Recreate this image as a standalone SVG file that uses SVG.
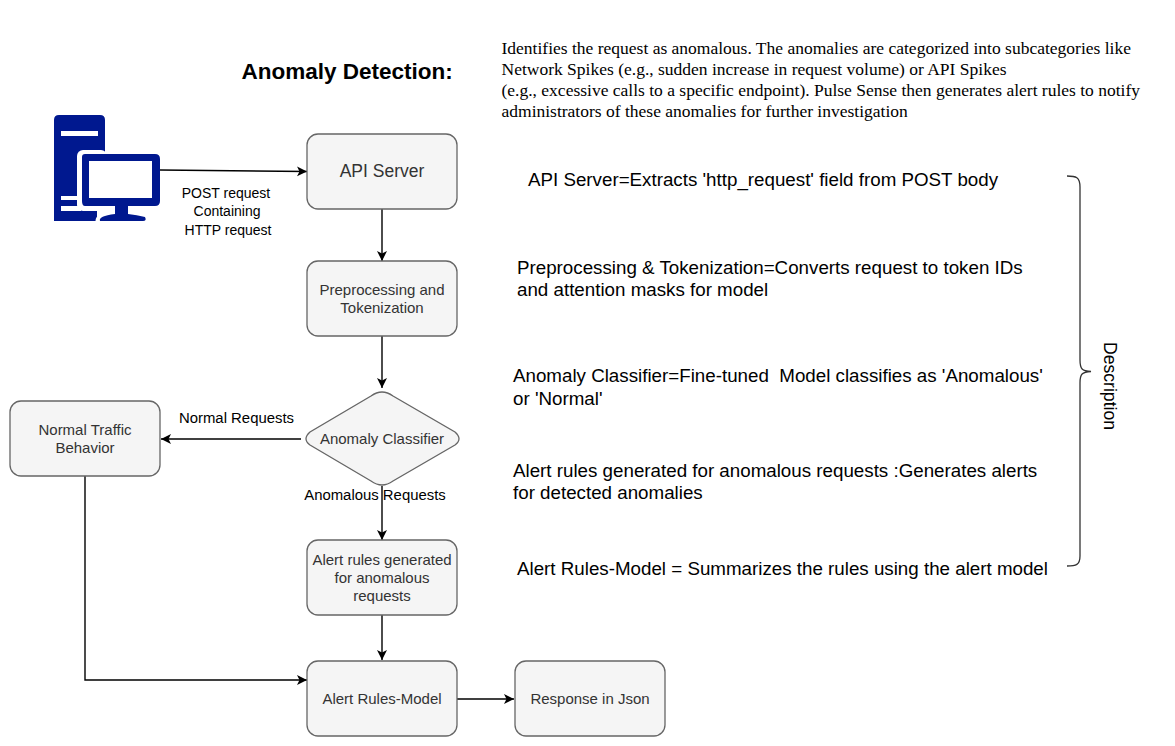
<svg xmlns="http://www.w3.org/2000/svg" width="1175" height="746" viewBox="0 0 1175 746">
<style>
text{font-family:"Liberation Sans",Arial,sans-serif;fill:#000}
.box{fill:#f5f5f5;stroke:#666;stroke-width:1.3}
.n{font-size:15px;fill:#333;text-anchor:middle}
.d{font-size:18.75px;white-space:pre}
.s{font-family:"Liberation Serif","Times New Roman",serif;font-size:17.5px}
.l{font-size:14px;text-anchor:middle}
.c{fill:none;stroke:#000;stroke-width:1.4;marker-end:url(#a)}
</style>
<defs><marker id="a" markerUnits="userSpaceOnUse" markerWidth="12" markerHeight="12" refX="10" refY="5" orient="auto"><path d="M0 0L10 5L0 10L2.500 5Z" fill="#000"/></marker></defs>
<rect width="1175" height="746" fill="#fff"/>
<text id="title" x="241.500" y="79" style="font-size:22.500px;font-weight:700">Anomaly Detection:</text>
<g id="intro">
<text class="s" x="501.500" y="54">Identifies the request as anomalous. The anomalies are categorized into subcategories like</text>
<text class="s" x="501.500" y="75">Network Spikes (e.g., sudden increase in request volume) or API Spikes</text>
<text class="s" x="501.500" y="96">(e.g., excessive calls to a specific endpoint). Pulse Sense then generates alert rules to notify</text>
<text class="s" x="501.500" y="117">administrators of these anomalies for further investigation</text>
</g>
<g id="client" fill="#00188f">
<path d="M59 115H100Q105 115 105 120V160H97V221H54V120Q54 115 59 115Z"/>
<rect x="61" y="131" width="37" height="5" fill="#fff"/>
<rect x="77" y="150" width="30" height="61" rx="6" fill="#fff"/>
<rect x="61" y="196" width="20" height="4" fill="#fff"/>
<rect x="61" y="206" width="20" height="5" fill="#fff"/>
<path d="M85 154H155Q160 154 160 159V201Q160 206 155 206H128V214Q137 215 145 217Q147 221 143 221H100Q98 216 115 214V206H85Q82 206 82 201V157Q82 154 85 154ZM89 161V198H152V161Z" fill-rule="evenodd"/>
<path d="M97 221Q97 214 113 212" fill="none" stroke="#fff" stroke-width="3"/>
</g>
<g id="connectors">
<path class="c" d="M160 170L307 171.500"/>
<path class="c" d="M382 209V261"/>
<path class="c" d="M382 336V388"/>
<path class="c" d="M301 439H161"/>
<path class="c" d="M382 486V540"/>
<path class="c" d="M382 615V660"/>
<path class="c" d="M85 476V680H307"/>
<path class="c" d="M457 699H514"/>
</g>
<g id="edge-label-post">
<text class="l" x="226" y="198">POST request</text>
<text class="l" x="227" y="216">Containing</text>
<text class="l" x="228" y="235">HTTP request</text>
</g>
<g id="api-server"><rect class="box" x="307" y="134" width="150" height="75" rx="11"/><text class="n" x="382" y="177" style="font-size:17.500px">API Server</text></g>
<g id="preprocessing"><rect class="box" x="307" y="261" width="150" height="75" rx="11"/><text class="n" x="382" y="295">Preprocessing and</text><text class="n" x="382" y="313">Tokenization</text></g>
<g id="classifier"><path class="box" d="M371 396Q382 388 393 396L455 432Q463 439 455 445L393 481Q382 489 371 481L310 445Q302 439 310 432Z"/><text class="n" x="382" y="444">Anomaly Classifier</text></g>
<g id="normal"><rect class="box" x="10" y="401" width="150" height="75" rx="11"/><text class="n" x="85" y="435">Normal Traffic</text><text class="n" x="85" y="453">Behavior</text></g>
<g id="alert-rules"><rect class="box" x="307" y="540" width="150" height="75" rx="11"/><text class="n" x="382" y="565">Alert rules generated</text><text class="n" x="382" y="583">for anomalous</text><text class="n" x="382" y="601">requests</text></g>
<g id="alert-model"><rect class="box" x="307" y="661" width="150" height="75" rx="11"/><text class="n" x="382" y="704">Alert Rules-Model</text></g>
<g id="response"><rect class="box" x="515" y="661" width="150" height="75" rx="11"/><text class="n" x="590" y="704">Response in Json</text></g>
<text id="label-normal" class="l" x="236.500" y="423" style="font-size:14.900px">Normal Requests</text>
<text id="label-anomalous" class="l" x="375" y="500" style="font-size:14.900px">Anomalous Requests</text>
<g id="descriptions">
<text class="d" x="528" y="186">API Server=Extracts 'http_request' field from POST body</text>
<text class="d" x="517" y="274">Preprocessing &amp; Tokenization=Converts request to token IDs</text>
<text class="d" x="517" y="296">and attention masks for model</text>
<text class="d" x="513" y="382">Anomaly Classifier=Fine-tuned  Model classifies as 'Anomalous'</text>
<text class="d" x="513" y="405">or 'Normal'</text>
<text class="d" x="513" y="477">Alert rules generated for anomalous requests :Generates alerts</text>
<text class="d" x="513" y="499">for detected anomalies</text>
<text class="d" x="517" y="575">Alert Rules-Model = Summarizes the rules using the alert model</text>
</g>
<g id="brace">
<path d="M1067 176C1076 176 1080 177 1080 187V360C1080 369 1082 371 1091 371.500C1082 372 1080 374 1080 383V556C1080 565 1076 566 1067 566" fill="none" stroke="#333" stroke-width="1.3"/>
<text x="0" y="0" transform="translate(1104 342) rotate(90)" style="font-size:17.600px">Description</text>
</g>
</svg>
